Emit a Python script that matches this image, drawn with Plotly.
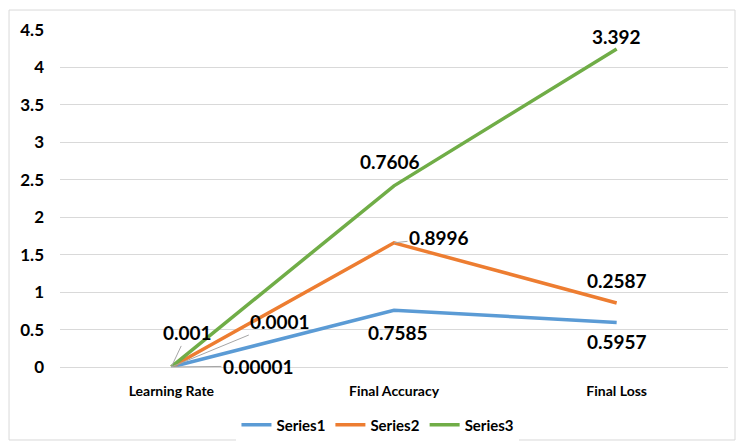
import numpy as np
import plotly.graph_objects as go

categories = ["Learning Rate", "Final Accuracy", "Final Loss"]
series_names = ["Series1", "Series2", "Series3"]
series1 = [0.00001, 0.7585, 0.5957]
series2 = [0.0001, 0.8996, 0.2587]
series3 = [0.001, 0.7606, 3.392]
label_text = [["0.00001", "0.7585", "0.5957"],
              ["0.0001", "0.8996", "0.2587"],
              ["0.001", "0.7606", "3.392"]]
y_ticks = [0, 0.5, 1, 1.5, 2, 2.5, 3, 3.5, 4, 4.5]

colors = ["#5B9BD5", "#ED7D31", "#70AD47"]
FONT = "Lato, 'Open Sans', sans-serif"

values = np.array([series1, series2, series3])
stacked = np.cumsum(values, axis=0)

fig = go.Figure()
for i, name in enumerate(series_names):
    fig.add_trace(go.Scatter(
        x=categories, y=stacked[i], name=name, mode="lines",
        line=dict(color=colors[i], width=3.5),
    ))

# label placement per series/category: (dx, dy, leader line); dy is screen px (down positive)
placement = [
    [(87, -1, True), (4, 22, False), (0, 19, False)],
    [(109, -45, True), (45, -5, True), (0, -23, False)],
    [(16, -34, True), (-4, -24, False), (0, -12, False)],
]
for i in range(3):
    for j in range(3):
        dx, dy, leader = placement[i][j]
        common = dict(x=categories[j], y=stacked[i][j], xref="x", yref="y",
                      text=label_text[i][j],
                      font=dict(family=FONT, size=19, color="#000000", weight="bold"))
        if leader:
            fig.add_annotation(**common, showarrow=True, ax=dx, ay=dy,
                               arrowhead=0, arrowwidth=1, arrowcolor="#A6A6A6",
                               standoff=0, startstandoff=0)
        else:
            fig.add_annotation(**common, showarrow=False, xshift=dx, yshift=-dy)

# outer chart border
fig.add_shape(type="rect", xref="paper", yref="paper",
              x0=-0.0763, x1=1.0105, y0=-0.2166, y1=1.0593,
              line=dict(color="#D9D9D9", width=1), fillcolor="rgba(0,0,0,0)",
              layer="below")

fig.update_layout(
    width=737, height=443,
    margin=dict(l=60, r=9, t=30, b=76, autoexpand=False),
    plot_bgcolor="white", paper_bgcolor="white",
    font=dict(family=FONT, color="#000000"),
    showlegend=True,
    legend=dict(orientation="h", x=0.476, xanchor="center", y=-0.172,
                yanchor="middle",
                font=dict(family=FONT, size=15, color="#000000", weight="bold"),
                itemwidth=30, tracegroupgap=0),
    xaxis=dict(type="category", range=[-0.5, 2.5], showgrid=False,
               showline=False, zeroline=False, ticks="",
               tickfont=dict(family=FONT, size=14, color="#000000", weight="bold"),
               ticklabelstandoff=14),
    yaxis=dict(range=[0, 4.5], tickvals=y_ticks,
               ticktext=[f"{v:g}" for v in y_ticks],
               showgrid=True, gridcolor="#D9D9D9", gridwidth=1,
               zeroline=True, zerolinecolor="#D9D9D9", zerolinewidth=1,
               showline=False, ticks="",
               tickfont=dict(family=FONT, size=17, color="#000000", weight="bold"),
               ticklabelstandoff=15),
)

fig.write_html("out.html")
